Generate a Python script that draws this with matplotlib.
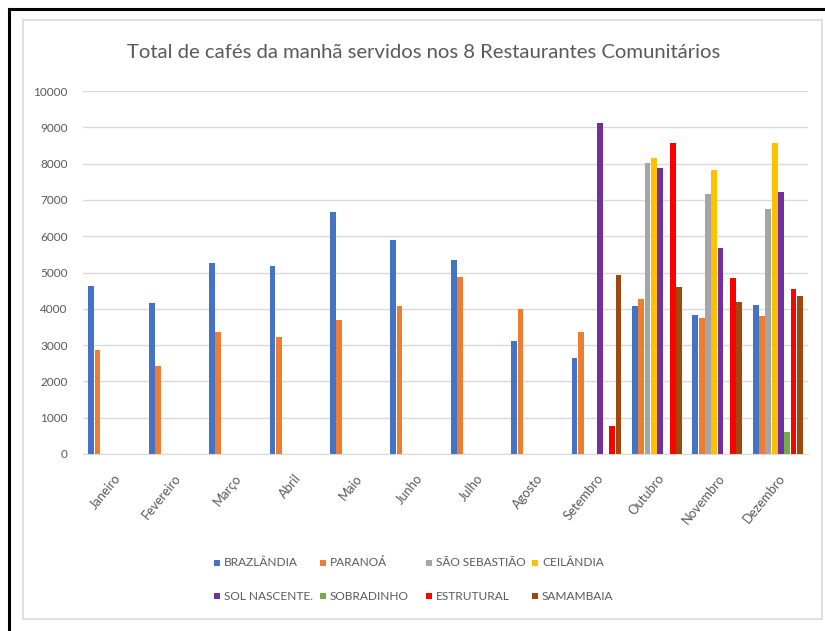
import matplotlib.pyplot as plt
import matplotlib.patches as patches
import numpy as np

plt.rcParams['font.family'] = ['Lato', 'DejaVu Sans']

meses = ['Janeiro', 'Fevereiro', 'Março', 'Abril', 'Maio', 'Junho',
         'Julho', 'Agosto', 'Setembro', 'Outubro', 'Novembro', 'Dezembro']

restaurantes = ['BRAZLÂNDIA', 'PARANOÁ', 'SÃO SEBASTIÃO', 'CEILÂNDIA',
                'SOL NASCENTE.', 'SOBRADINHO', 'ESTRUTURAL', 'SAMAMBAIA']

cores = ['#4472C4', '#ED7D31', '#A5A5A5', '#FFC000',
         '#7030A0', '#70AD47', '#FF0000', '#9E480E']

# valores mensais por restaurante (0 = sem registro)
brazlandia    = [4630, 4160, 5260, 5180, 6670, 5900, 5340, 3110, 2650, 4080, 3830, 4110]
paranoa       = [2860, 2420, 3360, 3220, 3690, 4080, 4880, 3990, 3360, 4280, 3740, 3790]
sao_sebastiao = [0, 0, 0, 0, 0, 0, 0, 0, 0, 8010, 7170, 6740]
ceilandia     = [0, 0, 0, 0, 0, 0, 0, 0, 0, 8150, 7820, 8560]
sol_nascente  = [0, 0, 0, 0, 0, 0, 0, 0, 9120, 7880, 5680, 7210]
sobradinho    = [0, 0, 0, 0, 0, 0, 0, 0, 0, 0, 0, 610]
estrutural    = [0, 0, 0, 0, 0, 0, 0, 0, 760, 8560, 4840, 4550]
samambaia     = [0, 0, 0, 0, 0, 0, 0, 0, 4930, 4600, 4180, 4340]

series = [brazlandia, paranoa, sao_sebastiao, ceilandia,
          sol_nascente, sobradinho, estrutural, samambaia]

texto = '#595959'
grade = '#D9D9D9'
W, H = 825, 631

def fx(px):
    return px / W

def fy(py):
    return 1 - py / H

fig = plt.figure(figsize=(W / 100, H / 100), dpi=100)

# moldura preta (topo e esquerda) e borda cinza do gráfico
fig.add_artist(plt.Line2D([fx(8.5), fx(8.5)], [0, fy(9)], color='black', lw=2.2))
fig.add_artist(plt.Line2D([fx(8.5), 1], [fy(9), fy(9)], color='black', lw=2.2))
fig.add_artist(patches.Rectangle((fx(23), fy(619)), (822 - 23) / W, (619 - 20) / H,
                                 transform=fig.transFigure, fill=False,
                                 edgecolor=grade, lw=1.2))

ax = fig.add_axes([fx(83), fy(454), (808 - 83) / W, (454 - 91) / H])

x = np.arange(len(meses))
largura = 0.104
for i, (valores, cor, nome) in enumerate(zip(series, cores, restaurantes)):
    desloc = (i - 3.5) * largura
    ax.bar(x + desloc, valores, width=largura * 0.92, color=cor, label=nome, zorder=3)

ax.set_xlim(-0.5, len(meses) - 0.5)
ax.set_ylim(0, 10000)
ax.set_yticks(range(0, 10001, 1000))
ax.yaxis.grid(True, color=grade, lw=1, zorder=0)
for lado in ['top', 'right', 'left']:
    ax.spines[lado].set_visible(False)
ax.spines['bottom'].set_color(grade)
ax.tick_params(axis='both', length=0, colors=texto, labelsize=8.5)
ax.tick_params(axis='y', pad=11)

ax.set_xticks(x)
ax.set_xticklabels(meses, rotation=51, ha='right', rotation_mode='anchor',
                   color=texto, fontsize=9.3)
ax.tick_params(axis='x', pad=13)

fig.text(fx(423.5), fy(52), 'Total de cafés da manhã servidos nos 8 Restaurantes Comunitários',
         ha='center', va='center', fontsize=14.6, color=texto)

# legenda em duas linhas, quatro colunas de largura fixa
col_x = [214, 320, 426, 532]
lin_y = [563, 596]
for k, (nome, cor) in enumerate(zip(restaurantes, cores)):
    cx = col_x[k % 4]
    cy = lin_y[k // 4]
    fig.add_artist(patches.Rectangle((fx(cx), fy(cy + 3)), 6 / W, 6 / H,
                                     transform=fig.transFigure,
                                     facecolor=cor, edgecolor='none'))
    fig.text(fx(cx + 10), fy(cy), nome, ha='left', va='center',
             fontsize=8.6, color=texto)

fig.savefig('out.png', dpi=100)
